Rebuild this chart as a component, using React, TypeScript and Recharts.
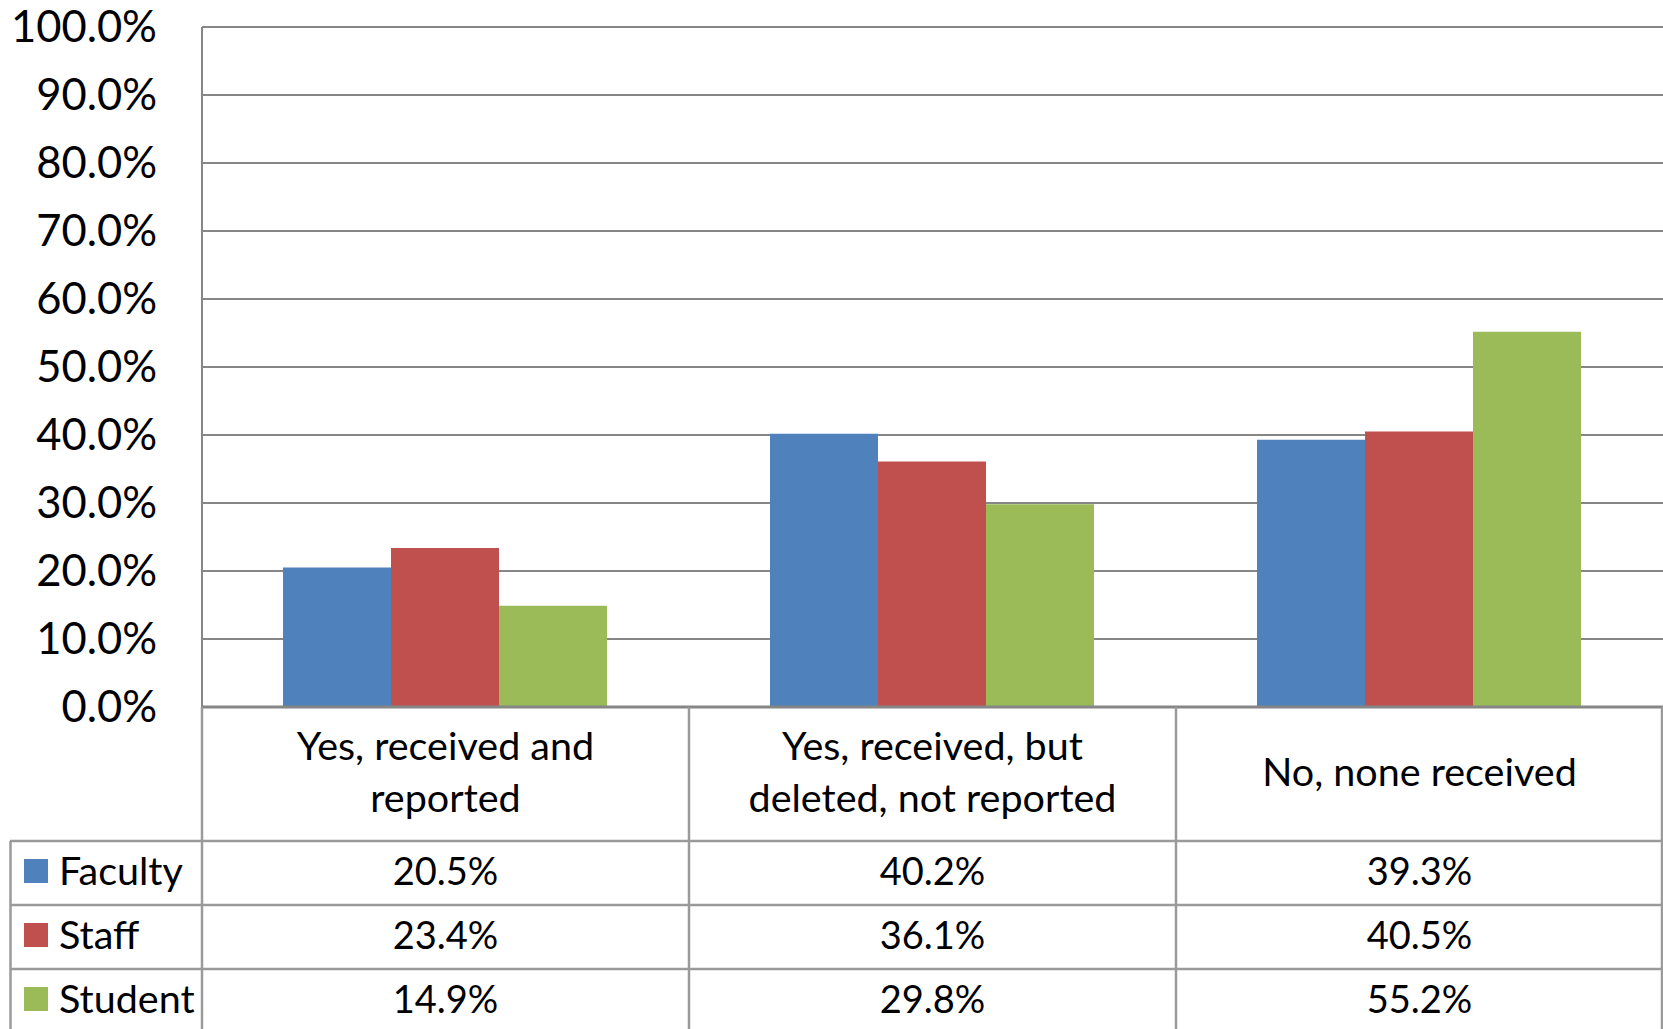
import React from 'react';
import { BarChart, Bar, XAxis, YAxis, CartesianGrid } from 'recharts';

const categories = ['Yes, received and\nreported', 'Yes, received, but\ndeleted, not reported', 'No, none received'];
const seriesNames = ['Faculty', 'Staff', 'Student'];
const faculty = [20.5, 40.2, 39.3];
const staff = [23.4, 36.1, 40.5];
const student = [14.9, 29.8, 55.2];
const yTicks = [0, 10, 20, 30, 40, 50, 60, 70, 80, 90, 100];

const seriesValues = [faculty, staff, student];
const colors = ['#4F81BD', '#C0504D', '#9BBB59'];
const keys = ['faculty', 'staff', 'student'];

const data = categories.map((c, i) => ({
  category: c,
  faculty: faculty[i],
  staff: staff[i],
  student: student[i],
}));

const W = 1663;
const H = 1029;
const TOP = 27;
const PLOT_BOTTOM = 707;
const LEFT = 202;
const FONT = 'Lato, "Open Sans", sans-serif';
const LINE = '#9a9a9a';
const ROW_LINES = [841, 905, 969];
const ROW_BASELINES = [885, 949, 1013];
const VALUE_FS = 38;
const LABEL_FS = 39.5;

const YTick = (props: any) => {
  const { y, payload } = props;
  return (
    <text x={157} y={y + 15} textAnchor="end" fontFamily={FONT} fontSize={43.5} fill="#000">
      {payload.value.toFixed(1) + '%'}
    </text>
  );
};

const XTick = (props: any) => {
  const { x, payload, index, visibleTicksCount, width } = props;
  const count = visibleTicksCount || categories.length;
  const band = (width || W - LEFT) / count;
  const left = x - band / 2;
  const right = x + band / 2;
  const lines = String(payload.value).split('\n');
  const labelBaselines = lines.length === 1 ? [786] : [760, 811.5];
  return (
    <g>
      {index === 0 && (
        <g>
          {ROW_LINES.map((ly) => (
            <line key={ly} x1={10} x2={W} y1={ly} y2={ly} stroke={LINE} strokeWidth={2.5} />
          ))}
          <line x1={10.5} x2={10.5} y1={ROW_LINES[0]} y2={H} stroke={LINE} strokeWidth={2.5} />
          {seriesNames.map((n, i) => (
            <g key={n}>
              <rect x={24} y={ROW_BASELINES[i] - 26} width={24} height={24} fill={colors[i]} />
              <text x={59} y={ROW_BASELINES[i]} fontFamily={FONT} fontSize={LABEL_FS} fill="#000">
                {n}
              </text>
            </g>
          ))}
        </g>
      )}
      <line x1={left} x2={left} y1={PLOT_BOTTOM} y2={H} stroke={LINE} strokeWidth={2.5} />
      {index === count - 1 && (
        <line x1={Math.min(right, W - 1)} x2={Math.min(right, W - 1)} y1={PLOT_BOTTOM} y2={H} stroke={LINE} strokeWidth={2.5} />
      )}
      {lines.map((t, i) => (
        <text key={i} x={x} y={labelBaselines[i]} textAnchor="middle" fontFamily={FONT} fontSize={LABEL_FS} fill="#000">
          {t}
        </text>
      ))}
      {seriesValues.map((vals, i) => (
        <text key={i} x={x} y={ROW_BASELINES[i]} textAnchor="middle" fontFamily={FONT} fontSize={VALUE_FS} fill="#000">
          {vals[index].toFixed(1) + '%'}
        </text>
      ))}
    </g>
  );
};

export default function App() {
  return (
    <div style={{ position: 'absolute', left: 0, top: 0, width: W, height: H, background: '#fff' }}>
      <BarChart
        width={W}
        height={H}
        data={data}
        margin={{ top: TOP, right: 0, bottom: 0, left: 0 }}
        barCategoryGap={81}
        barGap={0}
      >
        <CartesianGrid vertical={false} stroke="#868686" strokeWidth={2} />
        <YAxis
          type="number"
          domain={[0, 100]}
          ticks={yTicks}
          width={LEFT}
          tick={<YTick />}
          tickLine={false}
          axisLine={{ stroke: '#868686', strokeWidth: 2 }}
          interval={0}
        />
        <XAxis
          dataKey="category"
          height={H - PLOT_BOTTOM}
          tick={<XTick />}
          tickLine={false}
          axisLine={{ stroke: '#868686', strokeWidth: 3 }}
          interval={0}
        />
        {keys.map((k, i) => (
          <Bar key={k} dataKey={k} fill={colors[i]} isAnimationActive={false} />
        ))}
      </BarChart>
    </div>
  );
}
